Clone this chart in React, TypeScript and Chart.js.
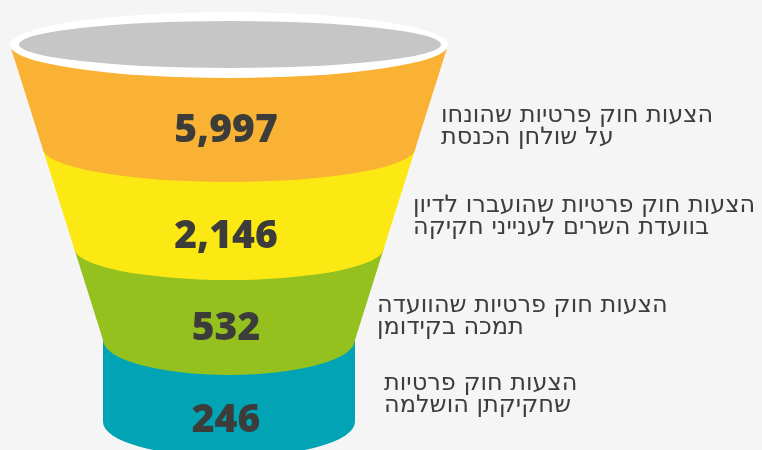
import React, { useEffect, useRef } from 'react';
import { Chart, registerables } from 'chart.js';

Chart.register(...registerables);

// ---- data ----
const stageLabels: string[][] = [
  ['הצעות חוק פרטיות שהונחו', 'על שולחן הכנסת'],
  ['הצעות חוק פרטיות שהועברו לדיון', 'בוועדת השרים לענייני חקיקה'],
  ['הצעות חוק פרטיות שהוועדה', 'תמכה בקידומן'],
  ['הצעות חוק פרטיות', 'שחקיקתן הושלמה'],
];
const stageValues: number[] = [5997, 2146, 532, 246];

// ---- style ----
const stageColors = ['#F9B233', '#FCE914', '#95C11F', '#00A4B5'];
const BG = '#F5F5F5';
const FUNNEL = { cx: 229, topY: 45, topHalf: 219, neckY: 340, neckHalf: 126, bottomY: 422, bottomRy: 35 };
const SEG_EDGES = [45, 148, 248, 340, 422];
const SEG_RY = [34, 32, 35, 35];
const RIM = { cx: 229, cy: 45, rx: 219, ry: 33 };
const RIM_INNER = { cx: 230, cy: 44.5, rx: 211, ry: 23.5 };
const NUM_POS = [[226, 142], [226, 248], [226, 340], [226, 432]];
const LABEL_POS = [[441, 122], [413, 212], [377, 312], [384, 390]];
const LABEL_LINE = 22;

const fmt = (v: number) => v.toLocaleString('en-US');

const funnelPlugin = {
  id: 'funnelPlugin',
  beforeDraw(chart: any) {
    const { ctx, width, height } = chart;
    ctx.save();
    ctx.fillStyle = BG;
    ctx.fillRect(0, 0, width, height);
    ctx.restore();
  },
  afterDatasetsDraw(chart: any) {
    const ctx: CanvasRenderingContext2D = chart.ctx;
    const gx = chart.scales.gx;
    const gy = chart.scales.gy;
    const X = (v: number) => gx.getPixelForValue(v);
    const Y = (v: number) => gy.getPixelForValue(v);
    const W = (d: number) => X(d) - X(0);
    const H = (d: number) => Y(d) - Y(0);
    const half = (y: number) =>
      y <= FUNNEL.neckY
        ? FUNNEL.topHalf - ((y - FUNNEL.topY) * (FUNNEL.topHalf - FUNNEL.neckHalf)) / (FUNNEL.neckY - FUNNEL.topY)
        : FUNNEL.neckHalf;
    const cx = FUNNEL.cx;
    ctx.save();
    // segments from bottom to top
    for (let i = stageValues.length - 1; i >= 0; i--) {
      const t = SEG_EDGES[i];
      const b = SEG_EDGES[i + 1];
      ctx.beginPath();
      ctx.moveTo(X(cx - half(t)), Y(t));
      if (t < FUNNEL.neckY && b > FUNNEL.neckY) ctx.lineTo(X(cx - FUNNEL.neckHalf), Y(FUNNEL.neckY));
      ctx.lineTo(X(cx - half(b)), Y(b));
      ctx.ellipse(X(cx), Y(b), W(half(b)), H(SEG_RY[i]), 0, Math.PI, 0, true);
      if (t < FUNNEL.neckY && b > FUNNEL.neckY) ctx.lineTo(X(cx + FUNNEL.neckHalf), Y(FUNNEL.neckY));
      ctx.lineTo(X(cx + half(t)), Y(t));
      ctx.closePath();
      ctx.fillStyle = stageColors[i];
      ctx.fill();
    }
    // rim
    ctx.beginPath();
    ctx.ellipse(X(RIM.cx), Y(RIM.cy), W(RIM.rx), H(RIM.ry), 0, 0, Math.PI * 2);
    ctx.fillStyle = '#FFFFFF';
    ctx.fill();
    ctx.beginPath();
    ctx.ellipse(X(RIM_INNER.cx), Y(RIM_INNER.cy), W(RIM_INNER.rx), H(RIM_INNER.ry), 0, 0, Math.PI * 2);
    ctx.fillStyle = '#C6C6C6';
    ctx.fill();

    // values
    ctx.fillStyle = '#3C3C3B';
    ctx.font = '800 39px "Open Sans"';
    ctx.textAlign = 'center';
    ctx.textBaseline = 'alphabetic';
    stageValues.forEach((v, i) => {
      ctx.fillText(fmt(v), X(NUM_POS[i][0]), Y(NUM_POS[i][1]));
    });

    // labels
    ctx.fillStyle = '#3D3D3D';
    ctx.font = '24px "DejaVu Sans"';
    ctx.direction = 'rtl';
    ctx.textAlign = 'left';
    stageLabels.forEach((lines, i) => {
      lines.forEach((line, j) => {
        ctx.fillText(line, X(LABEL_POS[i][0]), Y(LABEL_POS[i][1] + j * LABEL_LINE));
      });
    });
    ctx.restore();
  },
};

export default function App() {
  const ref = useRef<HTMLCanvasElement | null>(null);
  useEffect(() => {
    document.body.style.margin = '0';
    document.body.style.background = BG;
    if (!ref.current) return;
    const chart = new Chart(ref.current, {
      type: 'bar',
      data: {
        labels: stageLabels.map((l) => l.join(' ')),
        datasets: [
          {
            label: 'הצעות חוק פרטיות',
            data: stageValues,
            backgroundColor: 'rgba(0,0,0,0)',
            borderWidth: 0,
          },
        ],
      },
      options: {
        responsive: false,
        animation: false,
        layout: { padding: 0 },
        plugins: { legend: { display: false }, tooltip: { enabled: false } },
        scales: {
          x: { display: false },
          y: { display: false },
          gx: { type: 'linear', axis: 'x', position: 'bottom', min: 0, max: 762, offset: false, grace: 0, display: false },
          gy: { type: 'linear', axis: 'y', position: 'left', min: 0, max: 450, reverse: true, offset: false, grace: 0, display: false },
        },
      } as any,
      plugins: [funnelPlugin],
    });
    return () => chart.destroy();
  }, []);
  return (
    <div style={{ width: 762, height: 450 }}>
      <canvas ref={ref} width={762} height={450} />
    </div>
  );
}
